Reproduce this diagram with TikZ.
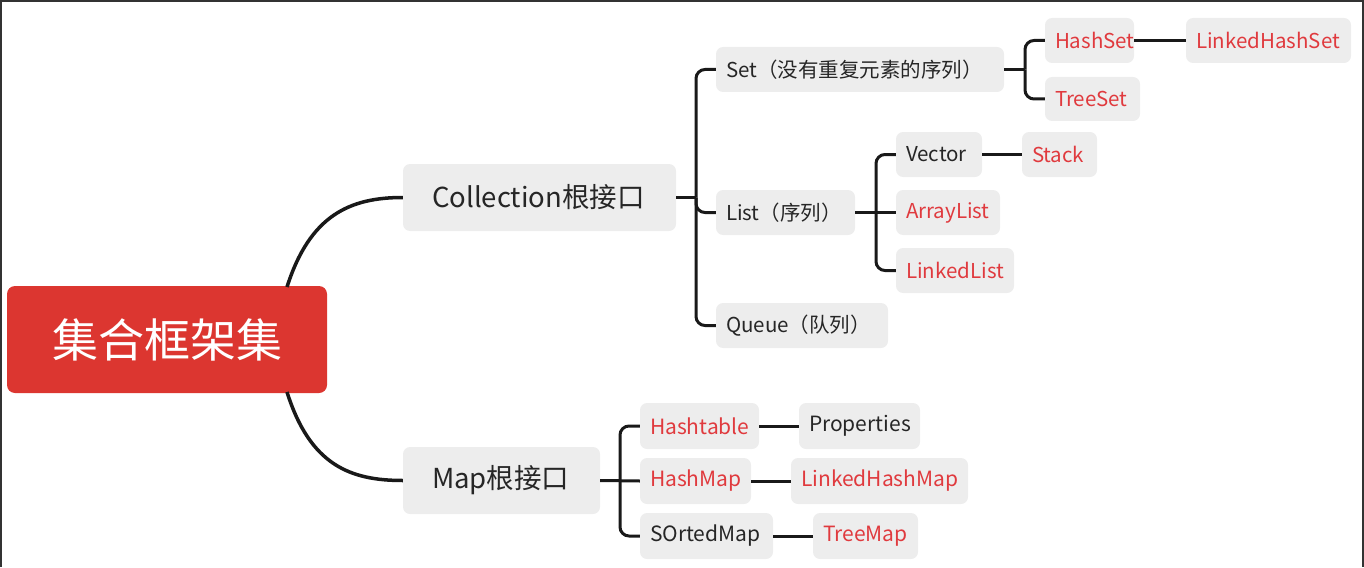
\documentclass[tikz,border=0pt]{standalone}
\usepackage{fontspec}
\setmainfont{Noto Sans CJK SC}
\tikzset{
    topic/.style={fill=black!7, rounded corners=7pt, inner ysep=0pt, inner xsep=10pt, align=left, text=black!85, font=\fontsize{20.5}{20.5}\selectfont},
    main topic/.style={topic, inner xsep=29pt, minimum height=67pt, font=\fontsize{27.5}{27.5}\selectfont},
    map leaf/.style={topic, minimum height=46pt, font=\fontsize{21}{21}\selectfont},
    red leaf/.style={text=leafred},
    branch/.style={line width=3pt, black!90, rounded corners=9pt},
}
\definecolor{rootred}{HTML}{DC3630}
\definecolor{leafred}{HTML}{E03A3E}

\begin{document}
\begin{tikzpicture}[x=1pt,y=-1pt]
    \useasboundingbox (0,0) rectangle (1364,567);
    \draw[black!80, line width=2pt] (1,567) -- (1,1) -- (1363,1) -- (1363,567);

    \node[fill=rootred, rounded corners=8pt, minimum width=320pt, minimum height=107pt, text=white, font=\fontsize{46}{46}\selectfont] at (167,339.5) (root) {集合框架集};

    \node[main topic, text width=215pt] at (539.5,197.5) (coll) {Collection根接口};
    \node[main topic, text width=139pt] at (501.5,480.5) (map) {Map根接口};

    \node[topic, text width=268pt, minimum height=45pt] at (860,69.5) (set) {Set（没有重复元素的序列）};
    \node[topic, text width=119pt, minimum height=45pt] at (785.5,212.5) (list) {List（序列）};
    \node[topic, text width=152pt, minimum height=45pt] at (802,325.5) (queue) {Queue（队列）};

    \node[topic, red leaf, text width=69pt, minimum height=45pt] at (1089.5,40.5) (hashset) {HashSet};
    \node[topic, red leaf, text width=145pt, minimum height=45pt] at (1268.5,40.5) (lhashset) {LinkedHashSet};
    \node[topic, red leaf, text width=75pt, minimum height=44pt] at (1092.5,99) (treeset) {TreeSet};

    \node[topic, text width=66pt, minimum height=45pt] at (939,154.5) (vector) {Vector};
    \node[topic, red leaf, text width=55pt, minimum height=45pt] at (1059.5,154.5) (stack) {Stack};
    \node[topic, red leaf, text width=84pt, minimum height=45pt] at (948,212.5) (alist) {ArrayList};
    \node[topic, red leaf, text width=98pt, minimum height=45pt] at (955,270.5) (llist) {LinkedList};

    \node[map leaf, red leaf, text width=99pt] at (699.5,426) (htable) {Hashtable};
    \node[map leaf, text width=101pt] at (859.5,426) (props) {Properties};
    \node[map leaf, red leaf, text width=91pt] at (695.5,481) (hmap) {HashMap};
    \node[map leaf, red leaf, text width=157pt] at (879.5,481) (lhmap) {LinkedHashMap};
    \node[map leaf, text width=113pt] at (706.5,536) (smap) {SOrtedMap};
    \node[map leaf, red leaf, text width=85pt] at (865.5,536) (tmap) {TreeMap};

    % root to the two interfaces
    \draw[line width=3.5pt, black!90] (287,287) .. controls (310,215) and (350,197.5) .. (coll.west);
    \draw[line width=3.5pt, black!90] (287,392) .. controls (310,465) and (350,480.5) .. (map.west);

    % Collection
    \coordinate (cj) at (696,197.5);
    \draw[branch] (coll.east) -- (cj);
    \draw[branch] (cj) |- (set.west);
    \draw[branch] (cj) |- (list.west);
    \draw[branch] (cj) |- (queue.west);

    % Set
    \coordinate (sj) at (1025,69.5);
    \draw[branch] (set.east) -- (sj);
    \draw[branch] (sj) |- (hashset.west);
    \draw[branch] (sj) |- (treeset.west);
    \draw[branch] (hashset) -- (lhashset);

    % List
    \coordinate (lj) at (876,212.5);
    \draw[branch] (list.east) -- (alist.west);
    \draw[branch] (lj) |- (vector.west);
    \draw[branch] (lj) |- (llist.west);
    \draw[branch] (vector) -- (stack);

    % Map
    \coordinate (mj) at (620,481);
    \draw[branch] (map.east) -- (hmap.west);
    \draw[branch] (mj) |- (htable.west);
    \draw[branch] (mj) |- (smap.west);
    \draw[branch] (htable) -- (props);
    \draw[branch] (hmap) -- (lhmap);
    \draw[branch] (smap) -- (tmap);
\end{tikzpicture}
\end{document}
